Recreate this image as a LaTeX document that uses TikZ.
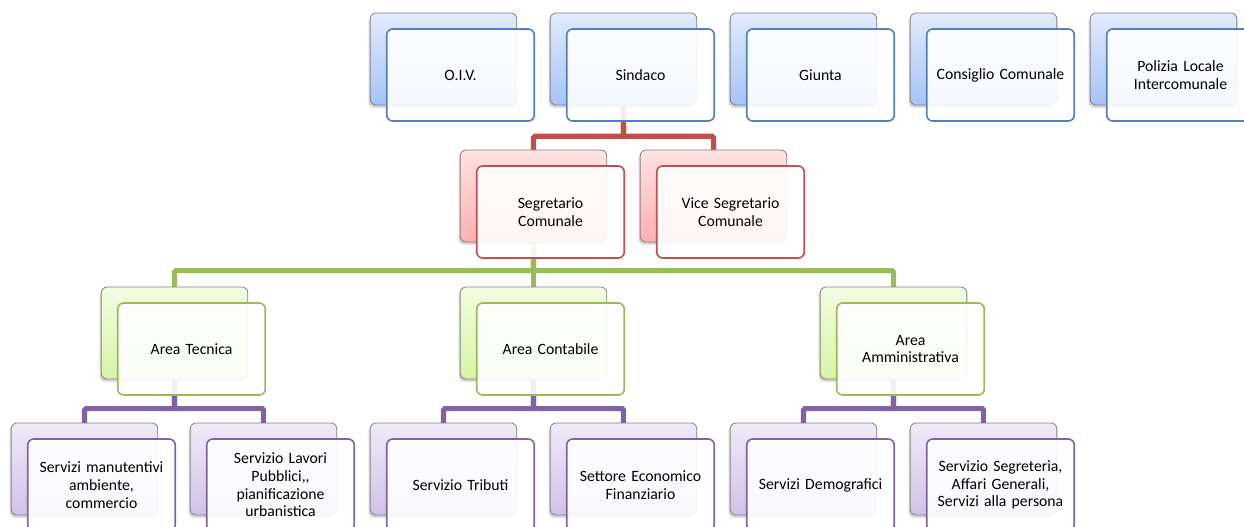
\documentclass[tikz,border=0pt]{standalone}
\usepackage{fontspec}
\setmainfont{Carlito}
\usetikzlibrary{positioning, shadows, backgrounds}

\definecolor{blueline}{HTML}{4F81BD}
\definecolor{redline}{HTML}{C0504D}
\definecolor{greenline}{HTML}{9BBB59}
\definecolor{purpleline}{HTML}{8064A2}

\tikzset{
	boxback/.style={rectangle, rounded corners=4.5pt, minimum width=110pt, minimum height=69pt,
		draw=black!50, line width=0.6pt, drop shadow={shadow xshift=-1.2pt, shadow yshift=-2pt, opacity=0.35}},
	boxfront/.style={rectangle, rounded corners=4.5pt, minimum width=110pt, minimum height=69pt,
		line width=1.2pt, fill=white, fill opacity=0.9, text opacity=1, align=center,
		text width=104pt, font=\fontsize{11.8}{13.3}\selectfont},
	blueback/.style={boxback, top color={rgb,255:red,226;green,235;blue,253}, bottom color={rgb,255:red,166;green,196;blue,248}},
	redback/.style={boxback, top color={rgb,255:red,255;green,226;blue,226}, bottom color={rgb,255:red,255;green,176;blue,176}},
	greenback/.style={boxback, top color={rgb,255:red,242;green,252;blue,226}, bottom color={rgb,255:red,214;green,244;blue,166}},
	purpleback/.style={boxback, top color={rgb,255:red,240;green,234;blue,247}, bottom color={rgb,255:red,208;green,194;blue,232}},
	link/.style={line width=3.8pt, rounded corners=1pt},
}

\begin{document}
\begin{tikzpicture}[x=0.75pt, y=-0.75pt]
	\path[use as bounding box, clip] (0,0) rectangle (1244,527);

	% top row
	\node[blueback] (oiv) at (443.5,59) {};
	\node[boxfront, draw=blueline] (oiv-t) at ([xshift=12.75pt,yshift=-12pt]oiv.center) {O.I.V.};
	\node[blueback] (sindaco) at (623.5,59) {};
	\node[boxfront, draw=blueline] (sindaco-t) at ([xshift=12.75pt,yshift=-12pt]sindaco.center) {Sindaco};
	\node[blueback] (giunta) at (803.5,59) {};
	\node[boxfront, draw=blueline] (giunta-t) at ([xshift=12.75pt,yshift=-12pt]giunta.center) {Giunta};
	\node[blueback] (consiglio) at (983.5,59) {};
	\node[boxfront, draw=blueline] (consiglio-t) at ([xshift=12.75pt,yshift=-12pt]consiglio.center) {Consiglio Comunale};
	\node[blueback] (polizia) at (1163.5,59) {};
	\node[boxfront, draw=blueline] (polizia-t) at ([xshift=12.75pt,yshift=-12pt]polizia.center) {Polizia Locale\\Intercomunale};

	% segreteria
	\node[redback] (segretario) at (533.5,196) {};
	\node[boxfront, draw=redline] (segretario-t) at ([xshift=12.75pt,yshift=-12pt]segretario.center) {Segretario\\Comunale};
	\node[redback] (vice) at (713.5,196) {};
	\node[boxfront, draw=redline] (vice-t) at ([xshift=12.75pt,yshift=-12pt]vice.center) {Vice Segretario\\Comunale};

	% aree
	\node[greenback] (tecnica) at (174.5,333) {};
	\node[boxfront, draw=greenline] (tecnica-t) at ([xshift=12.75pt,yshift=-12pt]tecnica.center) {Area Tecnica};
	\node[greenback] (contabile) at (533.5,333) {};
	\node[boxfront, draw=greenline] (contabile-t) at ([xshift=12.75pt,yshift=-12pt]contabile.center) {Area Contabile};
	\node[greenback] (amministrativa) at (893.5,333) {};
	\node[boxfront, draw=greenline] (amministrativa-t) at ([xshift=12.75pt,yshift=-12pt]amministrativa.center) {Area\\Amministrativa};

	% servizi
	\node[purpleback] (manutenzione) at (84.5,469) {};
	\node[boxfront, draw=purpleline] (manutenzione-t) at ([xshift=12.75pt,yshift=-12pt]manutenzione.center) {Servizi manutentivi\\ambiente,\\commercio};
	\node[purpleback] (lavori) at (263.5,469) {};
	\node[boxfront, draw=purpleline] (lavori-t) at ([xshift=12.75pt,yshift=-12pt]lavori.center) {Servizio Lavori\\Pubblici,{},\\pianificazione\\urbanistica};
	\node[purpleback] (tributi) at (443.5,469) {};
	\node[boxfront, draw=purpleline] (tributi-t) at ([xshift=12.75pt,yshift=-12pt]tributi.center) {Servizio Tributi};
	\node[purpleback] (economico) at (623.5,469) {};
	\node[boxfront, draw=purpleline] (economico-t) at ([xshift=12.75pt,yshift=-12pt]economico.center) {Settore Economico\\Finanziario};
	\node[purpleback] (demografici) at (803.5,469) {};
	\node[boxfront, draw=purpleline] (demografici-t) at ([xshift=12.75pt,yshift=-12pt]demografici.center) {Servizi Demografici};
	\node[purpleback] (segreteria) at (983.5,469) {};
	\node[boxfront, draw=purpleline] (segreteria-t) at ([xshift=12.75pt,yshift=-12pt]segreteria.center) {Servizio Segreteria,\\Affari Generali,\\Servizi alla persona};

	% connectors
	\begin{scope}[on background layer]
		\draw[link, redline] (sindaco.center) |- ([yshift=10pt]segretario.north) -- (segretario.center);
		\draw[link, redline] (sindaco.center) |- ([yshift=10pt]vice.north) -- (vice.center);
		\draw[link, greenline] (segretario.center) |- ([yshift=12pt]tecnica.north) -- (tecnica.center);
		\draw[link, greenline] (segretario.center) -- (contabile.center);
		\draw[link, greenline] (segretario.center) |- ([yshift=12pt]amministrativa.north) -- (amministrativa.center);
		\draw[link, purpleline] (tecnica.center) |- ([yshift=10.5pt]manutenzione.north) -- (manutenzione.center);
		\draw[link, purpleline] (tecnica.center) |- ([yshift=10.5pt]lavori.north) -- (lavori.center);
		\draw[link, purpleline] (contabile.center) |- ([yshift=10.5pt]tributi.north) -- (tributi.center);
		\draw[link, purpleline] (contabile.center) |- ([yshift=10.5pt]economico.north) -- (economico.center);
		\draw[link, purpleline] (amministrativa.center) |- ([yshift=10.5pt]demografici.north) -- (demografici.center);
		\draw[link, purpleline] (amministrativa.center) |- ([yshift=10.5pt]segreteria.north) -- (segreteria.center);
	\end{scope}
\end{tikzpicture}
\end{document}
